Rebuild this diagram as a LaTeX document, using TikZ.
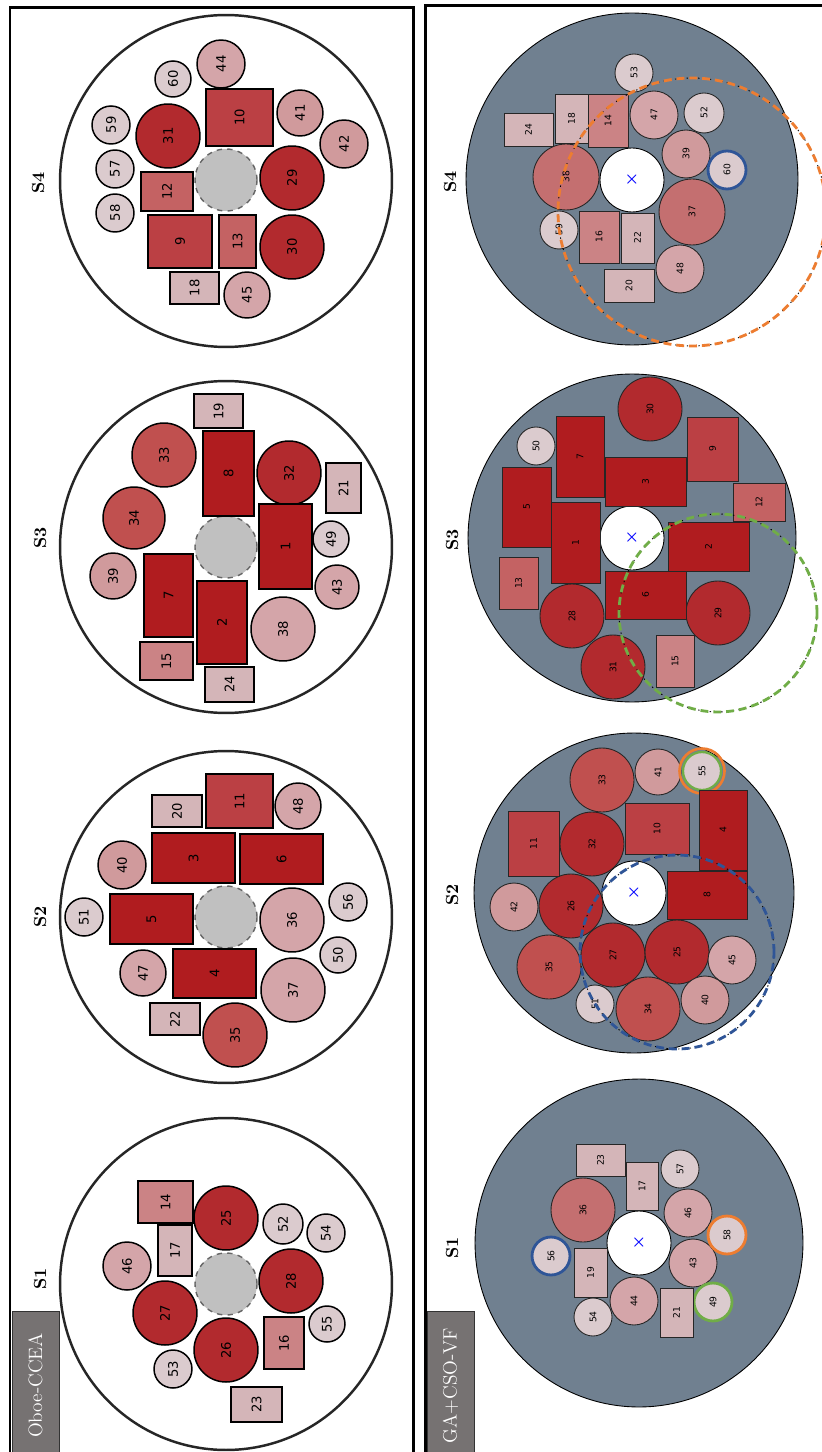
\documentclass[tikz,border=0pt]{standalone}
\usepackage{fontspec}
\usepackage{graphicx}
\usepackage{xcolor}
\usepackage{tikz}
\newfontfamily\numfont{DejaVu Sans}
\newcommand\onum{\numfont\fontsize{7.5}{7.5}\selectfont}
\newcommand\gnum{\numfont\fontsize{5.2}{5.2}\selectfont}
\definecolor{rA}{HTML}{B01C1F}
\definecolor{rB}{HTML}{BB4044}
\definecolor{rC}{HTML}{C46263}
\definecolor{rD}{HTML}{CB8385}
\definecolor{rE}{HTML}{D4B5B8}
\definecolor{cA}{HTML}{B22A2E}
\definecolor{cB}{HTML}{C0504F}
\definecolor{cC}{HTML}{C46F70}
\definecolor{cD}{HTML}{D09A9C}
\definecolor{cE}{HTML}{D4A5A9}
\definecolor{cF}{HTML}{DBCBCE}
\definecolor{slate}{HTML}{708090}
\definecolor{hubgray}{HTML}{C0C0C0}
\definecolor{tagbg}{HTML}{767272}
\definecolor{ringB}{HTML}{2F5597}
\definecolor{ringO}{HTML}{ED7D31}
\definecolor{ringG}{HTML}{70AD47}

\begin{document}
\begin{tikzpicture}[x=0.02cm,y=-0.02cm,
  frame/.style={line width=0.06cm,black},
  tag/.style={draw=black!80,fill=tagbg,text=white,minimum width=0.94cm,
              minimum height=2.98cm,inner sep=0pt,font=\fontsize{11}{11}\selectfont},
  slabel/.style={font=\fontsize{10}{10}\selectfont\bfseries,inner sep=0pt},
  osys/.style={circle,draw=black!85,line width=1.4pt,fill=white,minimum size=6.64cm},
  ohub/.style={circle,draw=black!60,dashed,line width=0.8pt,fill=hubgray,minimum size=1.24cm},
  ocell/.style={circle,draw=black,line width=0.85pt,inner sep=0pt,font=\onum},
  obox/.style={rectangle,draw=black,line width=0.85pt,inner sep=0pt,font=\onum},
  gsys/.style={circle,draw=black,line width=0.5pt,fill=slate,inner sep=0pt},
  ghub/.style={circle,draw=black,line width=0.5pt,fill=white,minimum size=1.28cm},
  gcell/.style={circle,draw=black!85,line width=0.5pt,inner sep=0pt,font=\gnum},
  gbox/.style={rectangle,draw=black!85,line width=0.5pt,inner sep=0pt,font=\gnum},
  ctr/.style={text=blue,inner sep=0pt,font=\fontsize{9}{9}\selectfont\boldmath},
  rng/.style={circle,line width=1.6pt,dash pattern=on 4.5pt off 2.8pt,inner sep=0pt,
              preaction={draw=black,line width=0.5pt,dash pattern=on 0.8pt off 2.5pt}}
]
  \useasboundingbox (0,0) rectangle (821,1452);

  % panel frames
  \draw[frame] (10,1460) |- (413.5,7.5) -- (413.5,1460);
  \draw[frame] (425.5,1460) |- (830,6);
  \node[tag] (o-tag) at (35.5,1385.5) {\rotatebox{90}{Oboe-CCEA}};
  \node[tag] (g-tag) at (450.5,1385.5) {\rotatebox{90}{GA+CSO-VF}};

  % Oboe-CCEA, S4
  \node[slabel] (o4-lbl) at (38,183) {\rotatebox{90}{S4}};
  \node[osys] (o4) at (226,181) {};
  \node[ohub] (o4-hub) at (226,180) {};
  \foreach \n/\x/\y/\r/\c in {44/221/64/24/cE, 60/173/79/18/cF, 41/300/113/23/cD,
      42/344/144/24/cD, 59/111/125/19/cF, 31/168/136/32/cA, 57/115/169/19/cF,
      29/292/178/32/cA, 58/115/213/19/cF, 30/292/247/32/cA, 45/247/295/23/cE}
    \node[ocell,fill=\c,minimum size=\r*0.04cm] (o4-\n) at (\x,\y) {\rotatebox{90}{\n}};
  \foreach \n/\x/\y/\w/\h/\c in {10/239.5/117.5/67/57/rB, 12/167/191.5/52/39/rC,
      9/180/241.5/64/53/rB, 13/237.5/241.5/37/53/rC, 18/194.5/288/49/32/rE}
    \node[obox,fill=\c,minimum width=\w*0.02cm,minimum height=\h*0.02cm] (o4-\n) at (\x,\y) {\rotatebox{90}{\n}};

  % Oboe-CCEA, S3
  \node[slabel] (o3-lbl) at (40,538) {\rotatebox{90}{S3}};
  \node[osys] (o3) at (226,547) {};
  \node[ohub] (o3-hub) at (226,547) {};
  \foreach \n/\x/\y/\r/\c in {33/164/455/32/cB, 32/289/473/32/cA, 34/134/518/31/cB,
      49/331/539/18/cF, 39/113/576/23/cD, 43/337/587/22/cE, 38/283/629/32/cE}
    \node[ocell,fill=\c,minimum size=\r*0.04cm] (o3-\n) at (\x,\y) {\rotatebox{90}{\n}};
  \foreach \n/\x/\y/\w/\h/\c in {19/218.5/411/49/34/rE, 8/228.5/473.5/51/85/rA,
      21/343.5/488/35/50/rE, 1/285.5/546.5/53/85/rA, 7/168.5/595.5/49/83/rA,
      2/222/622.5/50/83/rA, 15/166.5/661/53/38/rD, 24/229.5/684.5/49/35/rE}
    \node[obox,fill=\c,minimum width=\w*0.02cm,minimum height=\h*0.02cm] (o3-\n) at (\x,\y) {\rotatebox{90}{\n}};

  % Oboe-CCEA, S2
  \node[slabel] (o2-lbl) at (40,917) {\rotatebox{90}{S2}};
  \node[osys] (o2) at (226,917) {};
  \node[ohub] (o2-hub) at (226,917) {};
  \foreach \n/\x/\y/\r/\c in {48/298/806/23/cE, 40/122/865/24/cD, 51/84/917/19/cF,
      36/292/920/32/cE, 56/348/902/19/cF, 50/338/955/18/cF, 47/143/973/23/cE,
      37/293/990/32/cE, 35/235/1035/32/cB}
    \node[ocell,fill=\c,minimum size=\r*0.04cm] (o2-\n) at (\x,\y) {\rotatebox{90}{\n}};
  \foreach \n/\x/\y/\w/\h/\c in {20/177/811/50/32/rE, 11/239.5/801/67/54/rB,
      3/193.5/858/83/50/rA, 6/281.5/859/83/50/rA, 5/151.5/919/83/50/rA,
      4/214.5/973.5/83/49/rA, 22/175/1019/50/32/rE}
    \node[obox,fill=\c,minimum width=\w*0.02cm,minimum height=\h*0.02cm] (o2-\n) at (\x,\y) {\rotatebox{90}{\n}};

  % Oboe-CCEA, S1
  \node[slabel] (o1-lbl) at (40,1279) {\rotatebox{90}{S1}};
  \node[osys] (o1) at (226,1284) {};
  \node[ohub] (o1-hub) at (226,1284) {};
  \foreach \n/\x/\y/\r/\c in {25/226/1218/32/cA, 52/283/1224/20/cF, 54/326/1233/19/cF,
      46/127/1266/24/cE, 28/291/1281/32/cA, 27/165/1313/32/cA, 55/327/1324/18/cF,
      26/226/1350/32/cA, 53/173/1369/19/cF}
    \node[ocell,fill=\c,minimum size=\r*0.04cm] (o1-\n) at (\x,\y) {\rotatebox{90}{\n}};
  \foreach \n/\x/\y/\w/\h/\c in {14/165.5/1202/55/42/rD, 17/175/1250.5/34/51/rE,
      16/284/1343/40/52/rD, 23/256.5/1404.5/51/35/rE}
    \node[obox,fill=\c,minimum width=\w*0.02cm,minimum height=\h*0.02cm] (o1-\n) at (\x,\y) {\rotatebox{90}{\n}};

  % GA+CSO-VF, S4
  \node[slabel] (g4-lbl) at (450,182) {\rotatebox{90}{S4}};
  \node[gsys,minimum size=6.64cm] (g4) at (632,179) {};
  \node[ghub] (g4-hub) at (632,180) {};
  \node[ctr] (g4-x) at (g4-hub.center) {$\times$};
  \foreach \n/\x/\y/\r/\c in {53/634/73/19/cF, 47/654/115/24/cE, 52/704/113/20/cF,
      38/566/177/33/cC, 39/686/154/24/cD, 37/692/212/33/cC, 59/559/230/19/cF,
      48/680/269/24/cE}
    \node[gcell,fill=\c,minimum size=\r*0.04cm] (g4-\n) at (\x,\y) {\rotatebox{90}{\n}};
  \node[gcell,fill=cF,draw=ringB,line width=1.6pt,minimum size=0.76cm] (g4-60) at (727,170) {\rotatebox{90}{60}};
  \foreach \n/\x/\y/\w/\h/\c in {24/528.5/129.5/49/33/rE, 18/571.5/118.5/33/49/rE,
      14/608/120.5/40/53/rD, 16/599/237/40/52/rD, 22/637.5/238/33/50/rE,
      20/629/285.5/50/33/rE}
    \node[gbox,fill=\c,minimum width=\w*0.02cm,minimum height=\h*0.02cm] (g4-\n) at (\x,\y) {\rotatebox{90}{\n}};
  \node[rng,draw=ringO,minimum size=5.36cm] (g4-rng) at (g4-37.center) {};

  % GA+CSO-VF, S3
  \node[slabel] (g3-lbl) at (452,540) {\rotatebox{90}{S3}};
  \node[gsys,minimum size=6.56cm] (g3) at (632,538) {};
  \node[ghub] (g3-hub) at (632,538) {};
  \node[ctr] (g3-x) at (g3-hub.center) {$\times$};
  \foreach \n/\x/\y/\r/\c in {30/650/409/32/cA, 50/536/446/19/cF, 28/572/616/32/cA,
      29/718/613/32/cA, 31/613/667/32/cA}
    \node[gcell,fill=\c,minimum size=\r*0.04cm] (g3-\n) at (\x,\y) {\rotatebox{90}{\n}};
  \foreach \n/\x/\y/\w/\h/\c in {7/580/456.5/48/81/rA, 9/712.5/449/51/64/rB,
      3/645.5/481.5/81/49/rA, 5/526.5/507/49/80/rA, 12/759/502/52/38/rC,
      1/575.5/542.5/49/81/rA, 2/708.5/546.5/81/49/rA, 13/518.5/583/39/52/rC,
      6/645.5/595/81/48/rA, 15/675/661/38/52/rD}
    \node[gbox,fill=\c,minimum width=\w*0.02cm,minimum height=\h*0.02cm] (g3-\n) at (\x,\y) {\rotatebox{90}{\n}};
  \node[rng,draw=ringG,minimum size=3.96cm] (g3-rng) at (g3-29.center) {};

  % GA+CSO-VF, S2
  \node[slabel] (g2-lbl) at (452,895) {\rotatebox{90}{S2}};
  \node[gsys,minimum size=6.4cm] (g2) at (634,893) {};
  \node[ghub] (g2-hub) at (634,893) {};
  \node[ctr] (g2-x) at (g2-hub.center) {$\times$};
  \foreach \n/\x/\y/\r/\c in {33/602/780/32/cB, 41/658/772/23/cD, 32/592/844/32/cA,
      42/514/907/24/cD, 26/571/906/32/cA, 35/549/967/32/cB, 27/613/955/32/cA,
      25/677/952/32/cA, 45/732/960/24/cE, 51/595/1004/19/cF, 34/648/1009/32/cB,
      40/705/1000/24/cD}
    \node[gcell,fill=\c,minimum size=\r*0.04cm] (g2-\n) at (\x,\y) {\rotatebox{90}{\n}};
  \node[circle,draw=ringO,line width=1.5pt,minimum size=0.9cm] (g2-55o) at (702,771) {};
  \node[gcell,fill=cF,draw=ringG,line width=1.3pt,minimum size=0.76cm] (g2-55) at (702,771) {\rotatebox{90}{55}};
  \foreach \n/\x/\y/\w/\h/\c in {11/533.5/843.5/51/65/rB, 10/657/828.5/64/51/rB,
      4/723/830/48/80/rA, 8/707/895/80/48/rA}
    \node[gbox,fill=\c,minimum width=\w*0.02cm,minimum height=\h*0.02cm] (g2-\n) at (\x,\y) {\rotatebox{90}{\n}};
  \node[rng,draw=ringB,minimum size=3.88cm] (g2-rng) at (g2-25.center) {};

  % GA+CSO-VF, S1
  \node[slabel] (g1-lbl) at (452,1248) {\rotatebox{90}{S1}};
  \node[gsys,minimum size=6.56cm] (g1) at (639,1243) {};
  \node[ghub] (g1-hub) at (639,1243) {};
  \node[ctr] (g1-x) at (g1-hub.center) {$\times$};
  \foreach \n/\x/\y/\r/\c in {57/680/1169/19/cF, 36/583/1210/32/cC, 46/688/1213/24/cE,
      43/693/1263/24/cE, 44/634/1301/24/cE, 54/593/1317/19/cF}
    \node[gcell,fill=\c,minimum size=\r*0.04cm] (g1-\n) at (\x,\y) {\rotatebox{90}{\n}};
  \node[gcell,fill=cF,draw=ringO,line width=1.6pt,minimum size=0.76cm] (g1-58) at (727,1235) {\rotatebox{90}{58}};
  \node[gcell,fill=cF,draw=ringB,line width=1.6pt,minimum size=0.76cm] (g1-56) at (551,1256) {\rotatebox{90}{56}};
  \node[gcell,fill=cF,draw=ringG,line width=1.6pt,minimum size=0.76cm] (g1-49) at (713,1302) {\rotatebox{90}{49}};
  \foreach \n/\x/\y/\w/\h/\c in {23/600.5/1160/49/32/rE, 17/642/1186/32/48/rE,
      19/590.5/1272.5/33/49/rE, 21/676.5/1312.5/33/49/rE}
    \node[gbox,fill=\c,minimum width=\w*0.02cm,minimum height=\h*0.02cm] (g1-\n) at (\x,\y) {\rotatebox{90}{\n}};
\end{tikzpicture}
\end{document}
